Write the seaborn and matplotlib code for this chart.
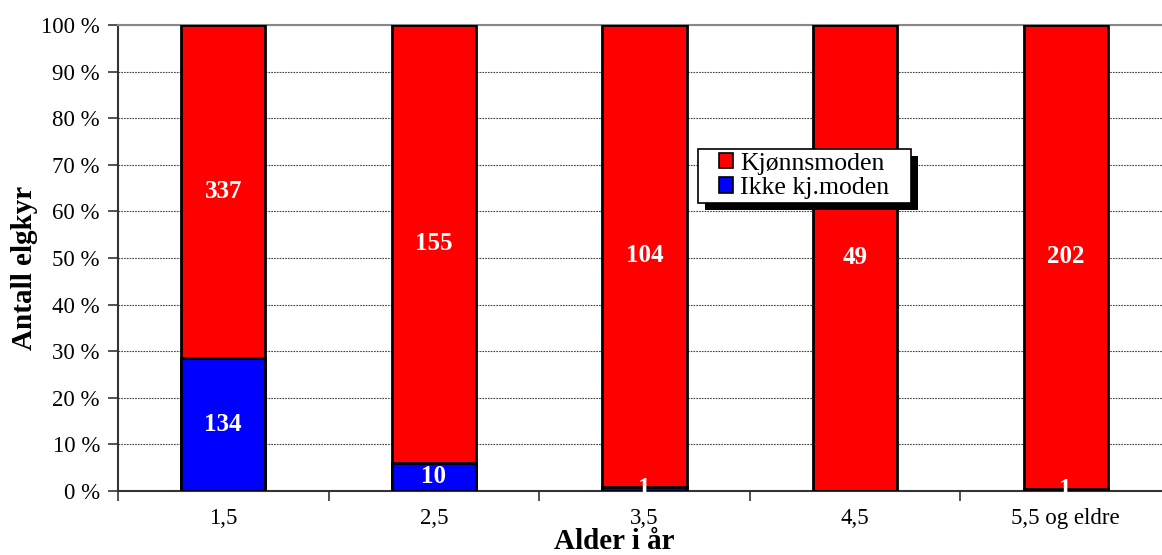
import matplotlib
matplotlib.use("Agg")
import matplotlib.pyplot as plt
import seaborn as sns
import pandas as pd
import numpy as np
from matplotlib.patches import Patch, Rectangle
from matplotlib.ticker import FixedLocator, PercentFormatter
from matplotlib.transforms import IdentityTransform

categories = ["1,5", "2,5", "3,5", "4,5", "5,5 og eldre"]
kjonnsmoden = [337, 155, 104, 49, 202]
ikke_kjmoden = [134, 10, 1, 0, 1]

sns.set_theme(style="white")
plt.rcParams["font.family"] = ["Liberation Serif", "DejaVu Serif"]
plt.rcParams["text.color"] = "black"
plt.rcParams["axes.labelcolor"] = "black"

tot = np.array(kjonnsmoden) + np.array(ikke_kjmoden)
df = pd.DataFrame({
    "Alder": categories,
    "total": 100.0,
    "ikke": np.array(ikke_kjmoden) / tot * 100,
})

fig = plt.figure(figsize=(11.62, 5.55), dpi=100)
ax = fig.add_axes([118 / 1162, (555 - 491) / 555, (1171 - 118) / 1162, 466 / 555])

sns.barplot(data=df, x="Alder", y="total", color="#ff0000", width=0.4,
            edgecolor="black", linewidth=2.0, saturation=1, ax=ax, zorder=3)
sns.barplot(data=df, x="Alder", y="ikke", color="#0000ff", width=0.4,
            edgecolor="black", linewidth=2.0, saturation=1, ax=ax, zorder=3)

ax.set_ylim(0, 100)
ax.set_xlim(-0.5, len(categories) - 0.5)
ax.set_yticks(np.arange(0, 101, 10))
ax.yaxis.set_major_formatter(PercentFormatter(decimals=0, symbol=" %"))
ax.grid(axis="y", which="major", linestyle=(0, (1.5, 1)), color="#444444", linewidth=0.8, zorder=0)
ax.set_axisbelow(True)

ax.spines["right"].set_visible(False)
ax.spines["top"].set_color("#888888")
ax.spines["top"].set_linewidth(1.5)
ax.spines["left"].set_color("#333333")
ax.spines["left"].set_linewidth(1.5)
ax.spines["bottom"].set_color("#333333")
ax.spines["bottom"].set_linewidth(1.5)

ax.tick_params(axis="y", which="major", direction="out", length=7, width=1.2,
               color="#333333", left=True, labelsize=16.5, pad=6, labelcolor="black")
ax.tick_params(axis="x", which="major", length=0, labelsize=16.5, pad=12, labelcolor="black")
ax.xaxis.set_minor_locator(FixedLocator(np.arange(-0.5, len(categories), 1.0)))
ax.tick_params(axis="x", which="minor", direction="out", length=7, width=1.2,
               color="#333333", bottom=True)

ax.set_xlabel("Alder i år", fontsize=21, fontweight="bold", color="black")
ax.xaxis.set_label_coords(0.471, -0.109)
ax.xaxis.label.set_va("center")
ax.set_ylabel("Antall elgkyr", fontsize=21, fontweight="bold", color="black")
ax.yaxis.set_label_coords(-0.089, 0.479)
ax.yaxis.label.set_va("center")

for i in range(len(categories)):
    ip = df["ikke"][i]
    if kjonnsmoden[i] > 0:
        ax.text(i, ip + (100 - ip) / 2, str(kjonnsmoden[i]), ha="center", va="center",
                color="white", fontsize=18, fontweight="bold", zorder=5)
    if ikke_kjmoden[i] > 0:
        ax.text(i, ip / 2, str(ikke_kjmoden[i]), ha="center", va="center",
                color="white", fontsize=18, fontweight="bold", zorder=5)

handles = [Patch(facecolor="#ff0000", edgecolor="black", linewidth=1.2, label="Kjønnsmoden"),
           Patch(facecolor="#0000ff", edgecolor="black", linewidth=1.2, label="Ikke kj.moden")]
leg = ax.legend(handles=handles, loc="center left", bbox_to_anchor=(0.5708, 0.676),
                frameon=False, fontsize=18.5, handlelength=0.55, handleheight=0.55,
                handletextpad=0.27, borderpad=0, labelspacing=0.1, borderaxespad=0)
for t in leg.get_texts():
    t.set_color("black")
leg.set_zorder(6)

fig.canvas.draw()
bb = leg.get_window_extent()
padl, padr, padt, padb = 21, 22, 4, 4
x0, y0 = bb.x0 - padl, bb.y0 - padb
w, h = bb.width + padl + padr, bb.height + padt + padb
shadow = Rectangle((x0 + 7, y0 - 7), w, h, transform=IdentityTransform(),
                   facecolor="black", edgecolor="none", zorder=5.5, clip_on=False)
frame = Rectangle((x0, y0), w, h, transform=IdentityTransform(),
                  facecolor="white", edgecolor="black", linewidth=1.2, zorder=5.6, clip_on=False)
ax.add_artist(shadow)
ax.add_artist(frame)

fig.savefig("out.png", dpi=100)
